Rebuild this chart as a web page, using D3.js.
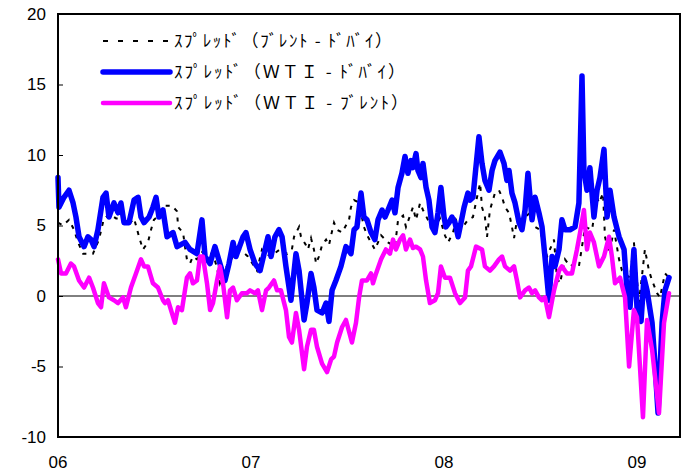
<!DOCTYPE html>
<html>
<head>
<meta charset="utf-8">
<script src="https://cdn.jsdelivr.net/npm/d3@7"></script>
<style>
  body { margin: 0; background: #fff; }
  text { font-family: "Liberation Sans", Arial, sans-serif; }
</style>
</head>
<body>
<svg id="chart" width="682" height="472"></svg>
<script>
// Tick values / labels
const yTicks = [-10, -5, 0, 5, 10, 15, 20];
const xTicks = [2006, 2007, 2008, 2009];
const xTickLabels = ['06', '07', '08', '09'];
const legendLabels = [
    'ｽﾌﾟﾚｯﾄﾞ（ﾌﾞﾚﾝﾄ - ﾄﾞﾊﾞｲ）',
    'ｽﾌﾟﾚｯﾄﾞ（ＷＴＩ - ﾄﾞﾊﾞｲ）',
    'ｽﾌﾟﾚｯﾄﾞ（ＷＴＩ - ﾌﾞﾚﾝﾄ）'
];

// [decimal year, spread $/bbl]
const brentDubai = [
    [2006.000, 5.2], [2006.026, 5.0], [2006.057, 5.4], [2006.083, 4.7], [2006.104, 3.8],
    [2006.130, 3.0], [2006.155, 3.0], [2006.181, 3.0], [2006.212, 4.0], [2006.238, 5.5],
    [2006.269, 5.8], [2006.301, 5.5], [2006.332, 5.5], [2006.363, 5.0], [2006.394, 5.5],
    [2006.420, 4.2], [2006.440, 3.3], [2006.466, 3.8], [2006.482, 4.7], [2006.497, 5.4],
    [2006.528, 5.8], [2006.554, 6.4], [2006.591, 6.4], [2006.617, 6.0], [2006.622, 4.9],
    [2006.648, 4.5], [2006.658, 3.5], [2006.668, 2.6], [2006.684, 2.3], [2006.699, 2.8],
    [2006.720, 2.6], [2006.751, 3.2], [2006.788, 3.0], [2006.803, 3.0], [2006.824, 2.0],
    [2006.839, 0.9], [2006.870, 2.0], [2006.907, 2.8], [2006.943, 3.3], [2006.984, 2.8],
    [2007.031, 1.8], [2007.057, 3.3], [2007.078, 3.0], [2007.104, 2.8], [2007.119, 3.0],
    [2007.150, 3.3], [2007.187, 3.0], [2007.212, 3.3], [2007.223, 4.2], [2007.249, 4.9],
    [2007.259, 4.2], [2007.285, 3.6], [2007.295, 3.3], [2007.311, 4.1], [2007.326, 3.3],
    [2007.337, 2.3], [2007.352, 2.8], [2007.368, 3.6], [2007.389, 4.0], [2007.404, 3.6],
    [2007.415, 4.3], [2007.430, 5.2], [2007.446, 4.7], [2007.472, 4.5], [2007.508, 5.4],
    [2007.518, 6.3], [2007.534, 6.8], [2007.549, 6.7], [2007.570, 5.9], [2007.585, 4.9],
    [2007.606, 4.2], [2007.642, 3.3], [2007.674, 4.3], [2007.710, 3.8], [2007.746, 3.5],
    [2007.762, 5.4], [2007.788, 5.7], [2007.803, 4.9], [2007.824, 5.7], [2007.839, 6.3],
    [2007.855, 5.4], [2007.876, 6.6], [2007.891, 6.1], [2007.917, 5.4], [2007.953, 4.9],
    [2007.979, 5.5], [2008.005, 4.3], [2008.021, 3.8], [2008.047, 4.5], [2008.062, 5.4],
    [2008.088, 4.7], [2008.124, 5.4], [2008.150, 5.6], [2008.171, 7.0], [2008.187, 8.0],
    [2008.197, 6.3], [2008.212, 5.6], [2008.223, 4.2], [2008.238, 6.1], [2008.264, 7.3],
    [2008.285, 7.5], [2008.301, 7.0], [2008.316, 6.3], [2008.337, 5.9], [2008.352, 4.9],
    [2008.363, 4.1], [2008.378, 5.4], [2008.394, 4.9], [2008.420, 5.6], [2008.446, 5.9],
    [2008.472, 4.9], [2008.497, 4.7], [2008.534, 2.8], [2008.570, 4.0], [2008.585, 1.3],
    [2008.601, 0.9], [2008.627, 2.6], [2008.653, 2.1], [2008.679, 2.3], [2008.699, 2.1],
    [2008.731, 4.9], [2008.767, 4.7], [2008.793, 7.0], [2008.803, 6.6], [2008.824, 7.3],
    [2008.834, 4.2], [2008.855, 3.0], [2008.881, 4.7], [2008.907, 2.6], [2008.922, 1.8],
    [2008.943, 1.5], [2008.964, 1.3], [2008.984, 3.8], [2009.010, -0.5], [2009.041, 3.3],
    [2009.062, 1.8], [2009.078, 1.1], [2009.104, 0.2], [2009.119, -0.1], [2009.145, 1.6],
    [2009.166, 1.3]
];

const wtiDubai = [
    [2006.000, 8.4], [2006.005, 6.3], [2006.031, 7.0], [2006.057, 7.5], [2006.078, 6.6],
    [2006.093, 5.6], [2006.109, 4.2], [2006.135, 3.5], [2006.155, 4.2], [2006.171, 4.0],
    [2006.187, 3.5], [2006.207, 4.7], [2006.233, 7.0], [2006.249, 7.3], [2006.264, 5.6],
    [2006.290, 6.6], [2006.311, 5.9], [2006.326, 6.6], [2006.342, 5.2], [2006.368, 5.2],
    [2006.394, 6.8], [2006.415, 7.0], [2006.430, 5.6], [2006.446, 5.2], [2006.472, 5.6],
    [2006.492, 6.3], [2006.508, 7.0], [2006.523, 5.6], [2006.544, 6.1], [2006.565, 4.2],
    [2006.596, 4.5], [2006.617, 3.5], [2006.658, 3.8], [2006.684, 3.3], [2006.720, 3.0],
    [2006.746, 5.4], [2006.762, 2.8], [2006.788, 2.3], [2006.813, 3.5], [2006.839, 2.3],
    [2006.865, 1.1], [2006.886, 2.3], [2006.907, 3.8], [2006.922, 2.8], [2006.959, 4.2],
    [2006.974, 4.5], [2006.995, 3.3], [2007.021, 2.3], [2007.047, 1.8], [2007.073, 3.3],
    [2007.088, 4.2], [2007.104, 2.8], [2007.124, 4.2], [2007.145, 4.7], [2007.161, 4.2],
    [2007.181, 2.1], [2007.207, -0.3], [2007.233, 3.0], [2007.249, 1.8], [2007.275, -1.7],
    [2007.290, -0.5], [2007.311, 1.6], [2007.326, 0.6], [2007.342, -1.0], [2007.368, -1.2],
    [2007.389, -0.5], [2007.404, -1.8], [2007.420, 0.4], [2007.440, 1.1], [2007.466, 2.1],
    [2007.492, 3.5], [2007.518, 3.0], [2007.534, 4.7], [2007.549, 4.9], [2007.570, 7.3],
    [2007.585, 5.6], [2007.601, 5.4], [2007.622, 4.5], [2007.642, 4.0], [2007.658, 5.4],
    [2007.679, 6.1], [2007.694, 5.6], [2007.710, 6.1], [2007.731, 6.8], [2007.746, 5.9],
    [2007.762, 7.7], [2007.782, 8.7], [2007.798, 9.9], [2007.813, 8.7], [2007.829, 9.6],
    [2007.839, 9.1], [2007.855, 10.1], [2007.865, 8.9], [2007.881, 8.4], [2007.891, 9.4],
    [2007.907, 7.7], [2007.922, 6.8], [2007.938, 4.9], [2007.953, 4.5], [2007.969, 5.9],
    [2007.984, 7.7], [2008.000, 5.6], [2008.010, 4.9], [2008.026, 5.2], [2008.041, 5.6],
    [2008.057, 5.2], [2008.073, 4.2], [2008.088, 5.2], [2008.104, 6.3], [2008.124, 7.3],
    [2008.135, 6.8], [2008.150, 7.0], [2008.181, 11.3], [2008.197, 9.4], [2008.212, 8.2],
    [2008.233, 7.5], [2008.249, 8.9], [2008.264, 9.6], [2008.290, 10.2], [2008.311, 9.4],
    [2008.326, 8.2], [2008.337, 8.9], [2008.352, 7.3], [2008.368, 6.6], [2008.389, 5.2],
    [2008.404, 4.7], [2008.420, 6.1], [2008.435, 8.7], [2008.456, 5.4], [2008.472, 7.0],
    [2008.492, 5.9], [2008.508, 4.9], [2008.523, 2.8], [2008.544, -0.3], [2008.560, 2.8],
    [2008.575, 2.1], [2008.596, 3.3], [2008.611, 5.4], [2008.627, 4.7], [2008.653, 4.7],
    [2008.679, 4.9], [2008.699, 6.6], [2008.715, 15.6], [2008.725, 8.9], [2008.741, 7.5],
    [2008.756, 9.1], [2008.777, 5.6], [2008.793, 7.5], [2008.808, 8.4], [2008.829, 10.4],
    [2008.845, 5.6], [2008.860, 7.5], [2008.881, 5.6], [2008.907, 4.2], [2008.933, 3.3],
    [2008.948, 0.4], [2008.964, -0.8], [2008.984, 3.3], [2009.000, -0.8], [2009.021, -1.8],
    [2009.036, 1.3], [2009.052, 0.4], [2009.078, -1.9], [2009.093, -4.8], [2009.109, -8.3],
    [2009.130, -1.9], [2009.145, 0.4], [2009.166, 1.3]
];

const wtiBrent = [
    [2006.000, 2.6], [2006.016, 1.6], [2006.041, 1.6], [2006.067, 2.3], [2006.083, 2.1],
    [2006.109, 1.1], [2006.135, 0.6], [2006.161, 1.3], [2006.181, 0.6], [2006.207, -0.5],
    [2006.223, -0.8], [2006.238, 0.9], [2006.264, -0.1], [2006.290, -0.3], [2006.311, -0.5],
    [2006.337, -0.1], [2006.352, -0.8], [2006.378, 0.6], [2006.404, 1.6], [2006.430, 2.6],
    [2006.446, 2.1], [2006.466, 2.1], [2006.492, 0.9], [2006.518, 0.6], [2006.544, -0.3],
    [2006.554, -0.5], [2006.570, -0.3], [2006.606, -1.9], [2006.622, -0.8], [2006.642, -1.0],
    [2006.668, 1.3], [2006.684, 1.6], [2006.699, 0.9], [2006.720, 1.1], [2006.736, 2.8],
    [2006.751, 2.8], [2006.772, 0.9], [2006.788, -1.0], [2006.803, -0.5], [2006.824, 1.1],
    [2006.839, 2.1], [2006.855, 0.9], [2006.876, -1.5], [2006.891, 0.4], [2006.907, 0.6],
    [2006.927, -0.3], [2006.953, 0.2], [2006.979, 0.2], [2006.995, 0.4], [2007.021, 0.2],
    [2007.036, 0.4], [2007.057, -1.0], [2007.078, 0.4], [2007.093, 0.6], [2007.119, 1.1],
    [2007.135, 0.4], [2007.155, 0.4], [2007.181, -1.0], [2007.197, -2.9], [2007.212, -3.3],
    [2007.233, -1.2], [2007.249, -2.4], [2007.275, -5.2], [2007.290, -3.6], [2007.311, -2.4],
    [2007.326, -2.4], [2007.342, -3.6], [2007.368, -4.8], [2007.394, -5.4], [2007.415, -4.5],
    [2007.430, -4.3], [2007.446, -3.3], [2007.472, -2.2], [2007.492, -1.7], [2007.523, -3.3],
    [2007.544, -1.9], [2007.560, -0.1], [2007.575, 1.1], [2007.601, 1.1], [2007.622, 1.6],
    [2007.632, 0.9], [2007.648, 1.6], [2007.674, 2.6], [2007.699, 3.3], [2007.720, 3.0],
    [2007.736, 4.0], [2007.751, 3.3], [2007.772, 4.0], [2007.788, 4.3], [2007.803, 3.3],
    [2007.824, 4.0], [2007.839, 3.4], [2007.855, 3.5], [2007.876, 3.3], [2007.891, 2.8],
    [2007.907, 1.1], [2007.927, -0.5], [2007.953, -0.3], [2007.969, 0.2], [2007.984, 2.1],
    [2008.005, 1.3], [2008.031, 1.3], [2008.057, 0.2], [2008.083, -0.5], [2008.109, -0.1],
    [2008.124, 1.8], [2008.140, 2.1], [2008.166, 3.5], [2008.197, 3.3], [2008.212, 2.1],
    [2008.238, 1.8], [2008.259, 2.1], [2008.285, 2.6], [2008.301, 2.8], [2008.316, 2.1],
    [2008.342, 1.8], [2008.363, 2.1], [2008.378, 1.1], [2008.394, -0.1], [2008.420, 0.4],
    [2008.440, 0.6], [2008.456, 0.2], [2008.472, 0.4], [2008.492, -0.1], [2008.508, -0.3],
    [2008.523, -0.1], [2008.544, -1.5], [2008.570, 0.4], [2008.596, 1.8], [2008.611, 2.1],
    [2008.637, 1.6], [2008.663, 1.6], [2008.689, 3.3], [2008.705, 4.5], [2008.725, 6.1],
    [2008.741, 3.3], [2008.756, 4.5], [2008.777, 3.8], [2008.803, 2.1], [2008.829, 2.8],
    [2008.855, 4.2], [2008.870, 2.8], [2008.886, 0.9], [2008.912, 1.3], [2008.938, -0.1],
    [2008.959, -5.0], [2008.984, -1.0], [2009.000, -1.5], [2009.031, -8.6], [2009.052, -1.7],
    [2009.078, -3.8], [2009.114, -8.3], [2009.140, -1.9], [2009.166, 0.2]
];

(function() {
    const svg = d3.select('#chart');
    const margin = { top: 14, left: 58, right: 2, bottom: 35 };
    const plotWidth = 682 - margin.left - margin.right;
    const plotHeight = 472 - margin.top - margin.bottom;

    const xScale = d3.scaleLinear()
        .domain([2006, 2006 + plotWidth / 193])
        .range([0, plotWidth]);

    const yScale = d3.scaleLinear()
        .domain([-10, 20])
        .range([plotHeight, 0]);

    const g = svg.append('g')
        .attr('transform', `translate(${margin.left}, ${margin.top})`);

    // zero line
    g.append('line')
        .attr('x1', 0).attr('x2', plotWidth)
        .attr('y1', yScale(0)).attr('y2', yScale(0))
        .attr('stroke', '#000')
        .attr('stroke-width', 1);

    // series
    const line = d3.line()
        .x(d => xScale(d[0]))
        .y(d => yScale(d[1]));

    g.append('path')
        .datum(brentDubai)
        .attr('fill', 'none')
        .attr('stroke', '#000')
        .attr('stroke-width', 2)
        .attr('stroke-dasharray', '4,6')
        .attr('d', line);

    g.append('path')
        .datum(wtiDubai)
        .attr('fill', 'none')
        .attr('stroke', '#0000FF')
        .attr('stroke-width', 5.5)
        .attr('stroke-linejoin', 'round')
        .attr('stroke-linecap', 'round')
        .attr('d', line);

    g.append('path')
        .datum(wtiBrent)
        .attr('fill', 'none')
        .attr('stroke', '#FF00FF')
        .attr('stroke-width', 4.5)
        .attr('stroke-linejoin', 'round')
        .attr('stroke-linecap', 'round')
        .attr('d', line);

    // y axis: inward ticks, labels on the left
    const yAxis = g.append('g')
        .call(d3.axisRight(yScale).tickValues(yTicks).tickSize(5).tickFormat(''));
    yAxis.select('.domain').remove();
    yAxis.selectAll('line').attr('stroke', '#000');

    g.selectAll('.ylabel')
        .data(yTicks)
        .enter().append('text')
        .attr('class', 'ylabel')
        .attr('x', -12)
        .attr('y', d => yScale(d))
        .attr('dy', '0.35em')
        .attr('text-anchor', 'end')
        .attr('font-size', '17px')
        .text(d => d);

    g.selectAll('.xlabel')
        .data(xTicks)
        .enter().append('text')
        .attr('class', 'xlabel')
        .attr('x', d => xScale(d))
        .attr('y', plotHeight + 25)
        .attr('dy', '0.35em')
        .attr('text-anchor', 'middle')
        .attr('font-size', '17px')
        .text((d, i) => xTickLabels[i]);

    // plot frame
    g.append('rect')
        .attr('x', 0).attr('y', 0)
        .attr('width', plotWidth).attr('height', plotHeight)
        .attr('fill', 'none')
        .attr('stroke', '#000')
        .attr('stroke-width', 2);

    // legend
    const legendStyles = [
        { color: '#000', width: 2, dash: '5,10', cap: 'butt', len: 218 },
        { color: '#0000FF', width: 5.5, dash: null, cap: 'round', len: 231 },
        { color: '#FF00FF', width: 4.5, dash: null, cap: 'round', len: 234 }
    ];
    const legend = svg.append('g').attr('transform', 'translate(103, 41)');
    legendLabels.forEach((label, i) => {
        const s = legendStyles[i];
        const item = legend.append('g').attr('transform', `translate(0, ${i * 31})`);
        item.append('line')
            .attr('x1', 0).attr('x2', 67)
            .attr('y1', 0).attr('y2', 0)
            .attr('stroke', s.color)
            .attr('stroke-width', s.width)
            .attr('stroke-linecap', s.cap)
            .attr('stroke-dasharray', s.dash);
        item.append('text')
            .attr('x', 71)
            .attr('y', 0)
            .attr('dy', '0.36em')
            .attr('font-size', '17px')
            .style('font-family', '"Noto Sans CJK JP", sans-serif')
            .attr('textLength', s.len)
            .attr('lengthAdjust', 'spacing')
            .text(label);
    });
})();
</script>
</body>
</html>
